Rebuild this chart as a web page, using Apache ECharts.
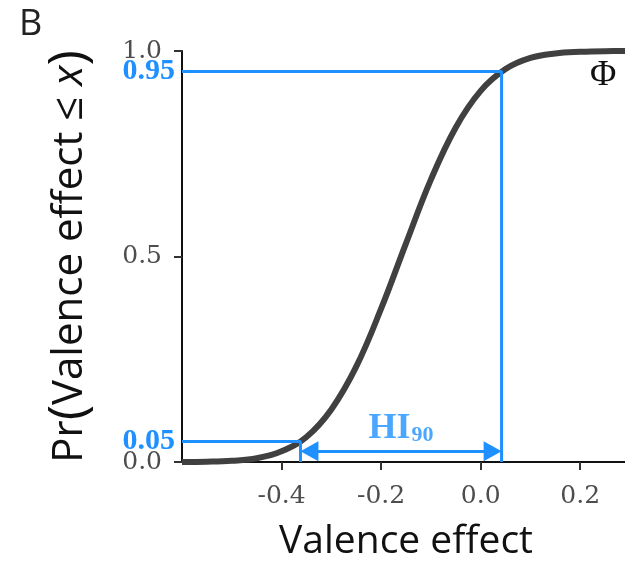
<!DOCTYPE html>
<html>
<head>
<meta charset="utf-8">
<script src="https://cdn.jsdelivr.net/npm/echarts@6/dist/echarts.min.js"></script>
<style>
  html, body { margin: 0; padding: 0; background: #fff; }
  #chart { width: 625px; height: 562px; }
</style>
</head>
<body>
<div id="chart"></div>
<script>
// cumulative curve
const cdfX = [-0.60, -0.55, -0.50, -0.45, -0.40, -0.35, -0.30, -0.25, -0.20, -0.15, -0.10, -0.05, 0.00, 0.05, 0.10, 0.15, 0.20, 0.25, 0.30];
const cdfY = [0.0002, 0.0008, 0.003, 0.009, 0.026, 0.061, 0.128, 0.232, 0.373, 0.532, 0.687, 0.814, 0.903, 0.956, 0.983, 0.994, 0.998, 0.9996, 0.9999];
const probs = [0.05, 0.95];
const quantiles = [-0.362, 0.042];
const arrowY = 0.026;
const xTicks = [-0.4, -0.2, 0.0, 0.2];
const yTicks = [0.0, 0.5, 1.0];

const blue = '#1E90FF';
const grey = '#4D4D4D';
const serif = 'DejaVu Serif';
const sans = 'Open Sans';

const chart = echarts.init(document.getElementById('chart'));

const curve = cdfX.map((x, i) => [x, cdfY[i]]);
const xMin = -0.6;
const inset = 0.018; // half arrow head, so the tip lands on the quantile

const option = {
  animation: false,
  grid: { left: 182, top: 51, right: -5, bottom: 100, outerBoundsMode: 'none' },
  xAxis: {
    type: 'value',
    min: xMin,
    max: 0.3,
    interval: 0.2,
    name: 'Valence effect',
    nameLocation: 'middle',
    nameGap: 60,
    nameTextStyle: { fontFamily: sans, fontSize: 39, color: '#111' },
    axisLine: { show: true, onZero: false, lineStyle: { color: '#111', width: 2 } },
    axisTick: { show: true, length: 8, customValues: xTicks, lineStyle: { color: '#333', width: 2 } },
    axisLabel: {
      customValues: xTicks,
      formatter: v => v.toFixed(1),
      fontFamily: serif, fontSize: 25, color: grey, margin: 22
    },
    splitLine: { show: false }
  },
  yAxis: [
    {
      type: 'value',
      min: 0,
      max: 1,
      name: '{t|Pr}{p|(}{t|Valence effect ≤ }{i|x}{p|)}',
      nameLocation: 'middle',
      nameRotate: 90,
      nameGap: 86,
      nameTextStyle: {
        color: '#111',
        rich: {
          t: { fontFamily: sans, fontSize: 42, color: '#111' },
          i: { fontFamily: sans, fontSize: 42, fontStyle: 'italic', color: '#111' },
          p: { fontFamily: sans, fontSize: 52, color: '#111' }
        }
      },
      axisLine: { show: true, onZero: false, lineStyle: { color: '#111', width: 2 } },
      axisTick: { show: true, length: 8, customValues: yTicks, lineStyle: { color: '#333', width: 2 } },
      axisLabel: {
        customValues: yTicks,
        formatter: v => v.toFixed(1),
        fontFamily: serif, fontSize: 25, color: grey, margin: 20
      },
      splitLine: { show: false }
    },
    {
      type: 'value',
      position: 'left',
      min: 0,
      max: 1,
      axisLine: { show: false },
      axisTick: { show: false },
      axisLabel: {
        customValues: probs,
        formatter: v => v.toFixed(2),
        fontFamily: 'Liberation Serif', fontSize: 30, fontWeight: 'bold', color: blue, margin: 7
      },
      splitLine: { show: false }
    }
  ],
  series: [
    {
      type: 'line',
      data: curve,
      smooth: 0.4,
      showSymbol: false,
      lineStyle: { color: '#404040', width: 6 },
      z: 2
    },
    {
      type: 'line',
      data: [[xMin, probs[1]], [quantiles[1], probs[1]], [quantiles[1], 0]],
      showSymbol: false,
      lineStyle: { color: blue, width: 3 },
      z: 3
    },
    {
      type: 'line',
      data: [[xMin, probs[0]], [quantiles[0], probs[0]], [quantiles[0], 0]],
      showSymbol: false,
      lineStyle: { color: blue, width: 3 },
      z: 3,
      markLine: {
        silent: true,
        symbol: ['triangle', 'triangle'],
        symbolSize: [20, 18],
        label: { show: false },
        lineStyle: { color: blue, width: 3, type: 'solid' },
        emphasis: { disabled: true },
        data: [[{ coord: [quantiles[0] + inset, arrowY] }, { coord: [quantiles[1] - inset, arrowY] }]]
      }
    },
    {
      type: 'scatter',
      data: [[(quantiles[0] + quantiles[1]) / 2, 0.082]],
      symbolSize: 0,
      silent: true,
      label: {
        show: true,
        position: 'inside',
        formatter: '{h|HI}{s|90}',
        rich: {
          h: { fontFamily: 'Liberation Serif', fontSize: 36, fontWeight: 'bold', color: blue, verticalAlign: 'bottom' },
          s: { fontFamily: 'Liberation Serif', fontSize: 22, fontWeight: 'bold', color: blue, verticalAlign: 'bottom', padding: [0, 0, 0, 1] }
        }
      }
    }
  ],
  graphic: [
    { type: 'text', left: 19, top: 7, style: { text: 'B', font: '36px "Open Sans"', fill: '#222' } },
    { type: 'text', left: 590, top: 58, style: { text: 'Φ', font: '36px "Liberation Serif"', fill: '#111' } }
  ]
};

chart.setOption(option);
</script>
</body>
</html>
